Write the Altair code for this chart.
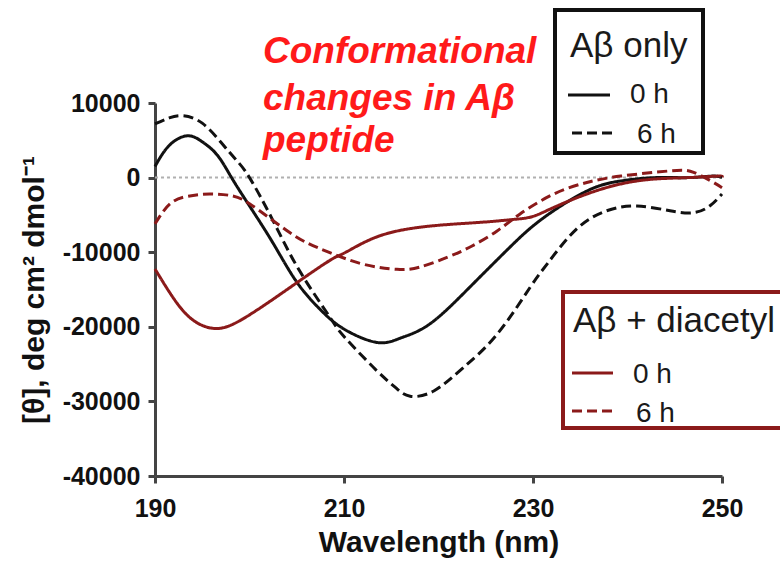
import altair as alt
import pandas as pd

# ---- data ----
wl_a0 = [190, 191.5, 193.4, 195, 196.6, 198.1, 200, 202.5, 205, 207.5, 210, 213.5, 216, 219.1, 223.3, 227.5, 231, 235.7, 239.3, 243, 246.4, 249, 250]
val_a0 = [1500, 4300, 5600, 4800, 3000, 0, -3800, -8800, -14000, -17700, -20300, -22100, -21500, -19600, -14700, -9400, -5500, -1800, -450, 0, 0, 200, 0]

wl_a6 = [190, 191.5, 193, 195, 197, 198.5, 200, 202.5, 205.3, 208.5, 210, 213.4, 215.5, 217, 219.5, 222.6, 226.2, 229.7, 231.6, 234.6, 237.8, 241, 244.5, 247, 248.7, 250]
val_a6 = [7200, 8000, 8300, 7300, 4700, 2500, 0, -5800, -12500, -18700, -21300, -25800, -28200, -29300, -28600, -25500, -21000, -14700, -11400, -6900, -4450, -3800, -4450, -4700, -3800, -2200]

wl_d0 = [190, 191.5, 193, 194.5, 196.1, 197.8, 200, 202.5, 205, 208.5, 210.2, 213.8, 219.1, 224.4, 228, 230, 232.2, 235.7, 239.3, 242.8, 246.4, 249.5, 250]
val_d0 = [-12250, -15300, -17900, -19500, -20200, -19900, -18400, -16300, -14100, -11100, -10000, -7800, -6500, -6000, -5600, -5200, -4000, -2200, -850, -200, 0, 200, 100]

wl_d6 = [190, 191.6, 193.5, 195.8, 198, 200, 203.5, 206, 208.5, 212, 215.6, 218, 220.9, 223.5, 226.2, 228.6, 232.2, 235.7, 239.3, 244.5, 247, 249.1, 250]
val_d6 = [-6200, -3500, -2500, -2200, -2400, -3500, -6700, -8700, -10050, -11600, -12300, -12000, -10700, -9200, -7150, -4900, -2200, -650, 200, 900, 700, -650, -1350]

series_names = ["Aβ only 0 h", "Aβ only 6 h", "Aβ + diacetyl 0 h", "Aβ + diacetyl 6 h"]
x_ticks = [190, 210, 230, 250]
y_ticks = [10000, 0, -10000, -20000, -30000, -40000]
annotation_lines = ["Conformational", "changes in Aβ", "peptide"]
legend_titles = ["Aβ only", "Aβ + diacetyl"]
legend_rows = ["0 h", "6 h"]

BLACK = "#111111"
RED = "#8b1a1a"
FONT = "Liberation Sans"

rows = []
for name, wls, vals in zip(series_names, [wl_a0, wl_a6, wl_d0, wl_d6], [val_a0, val_a6, val_d0, val_d6]):
    for w, v in zip(wls, vals):
        rows.append({"series": name, "wl": w, "val": v})
df = pd.DataFrame(rows)

W, H = 567, 373
xscale = alt.Scale(domain=[190, 250], nice=False, zero=False)
yscale = alt.Scale(domain=[-40000, 10000], nice=False)

lines = alt.Chart(df).mark_line(strokeWidth=3, interpolate="natural").encode(
    x=alt.X("wl:Q", scale=xscale,
            axis=alt.Axis(values=x_ticks, title="Wavelength (nm)", grid=False, labelFlush=False,
                          labelFontSize=25, labelFontWeight="bold", labelColor=BLACK, labelFont=FONT,
                          labelPadding=13, tickSize=7, tickWidth=3, tickColor="#444",
                          domainColor="#444", domainWidth=3,
                          titleFontSize=30, titleFontWeight="bold", titleFont=FONT, titleColor=BLACK,
                          titleBaseline="alphabetic", titleY=75)),
    y=alt.Y("val:Q", scale=yscale,
            axis=alt.Axis(values=y_ticks, title="[θ], deg cm² dmol⁻¹", grid=False, labelFlush=False,
                          labelExpr="'' + datum.value",
                          labelFontSize=25, labelFontWeight="bold", labelColor=BLACK, labelFont=FONT,
                          labelPadding=8, tickSize=7, tickWidth=3, tickColor="#444",
                          domainColor="#444", domainWidth=3,
                          titleFontSize=30, titleFontWeight="bold", titleFont=FONT, titleColor=BLACK,
                          titleBaseline="alphabetic", titleX=-112, titleAngle=270)),
    color=alt.Color("series:N", scale=alt.Scale(domain=series_names, range=[BLACK, BLACK, RED, RED]), legend=None),
    strokeDash=alt.StrokeDash("series:N", scale=alt.Scale(domain=series_names, range=[[1, 0], [10, 5], [1, 0], [10, 5]]), legend=None),
    detail="series:N",
)

zero = alt.Chart(pd.DataFrame({"y": [0]})).mark_rule(color="#b0b0b0", strokeWidth=2, strokeDash=[3, 3]).encode(y=alt.Y("y:Q", scale=yscale))

layers = [zero, lines]

# annotation text (pixel positions relative to the plot origin)
ann_y = [-40, 7, 49]
for t, yy in zip(annotation_lines, ann_y):
    layers.append(alt.Chart(pd.DataFrame({"t": [t]})).mark_text(
        align="left", baseline="alphabetic", font=FONT, fontSize=37, fontStyle="italic",
        fontWeight="bold", color="#ff1a1a").encode(text="t:N", x=alt.value(108), y=alt.value(yy)))

# legend boxes
box_specs = [(400, 548, -93, 50, BLACK), (408, 650, 189, 325, RED)]
for (x1, x2, y1, y2, col) in box_specs:
    layers.append(alt.Chart(pd.DataFrame({"a": [0]})).mark_rect(fill="white", stroke=col, strokeWidth=4).encode(
        x=alt.value(x1), x2=alt.value(x2), y=alt.value(y1), y2=alt.value(y2)))

# legend titles
for t, (xx, yy) in zip(legend_titles, [(415, -46), (418, 229)]):
    layers.append(alt.Chart(pd.DataFrame({"t": [t]})).mark_text(
        align="left", baseline="alphabetic", font=FONT, fontSize=35, color="#1a1a1a").encode(
        text="t:N", x=alt.value(xx), y=alt.value(yy)))

# legend rows
row_specs = [
    (legend_rows[0], BLACK, [1, 0], 413, 455, -8, 475, 0),
    (legend_rows[1], BLACK, [10, 5], 417, 458, 30, 482, 40),
    (legend_rows[0], RED, [1, 0], 417, 458, 270, 478, 280),
    (legend_rows[1], RED, [10, 5], 417, 458, 308, 481, 319),
]
for (t, col, dash, lx1, lx2, ly, tx, ty) in row_specs:
    layers.append(alt.Chart(pd.DataFrame({"a": [0]})).mark_rule(color=col, strokeWidth=3, strokeDash=dash).encode(
        x=alt.value(lx1), x2=alt.value(lx2), y=alt.value(ly)))
    layers.append(alt.Chart(pd.DataFrame({"t": [t]})).mark_text(
        align="left", baseline="alphabetic", font=FONT, fontSize=28, color="#1a1a1a").encode(
        text="t:N", x=alt.value(tx), y=alt.value(ty)))

chart = alt.layer(*layers).properties(
    width=W, height=H,
    autosize=alt.AutoSizeParams(type="none"),
    padding={"left": 155, "top": 103, "right": 58, "bottom": 86},
    background="white",
).configure_view(stroke=None)

chart.save("out.html", embed_options={"renderer": "svg", "actions": False})
